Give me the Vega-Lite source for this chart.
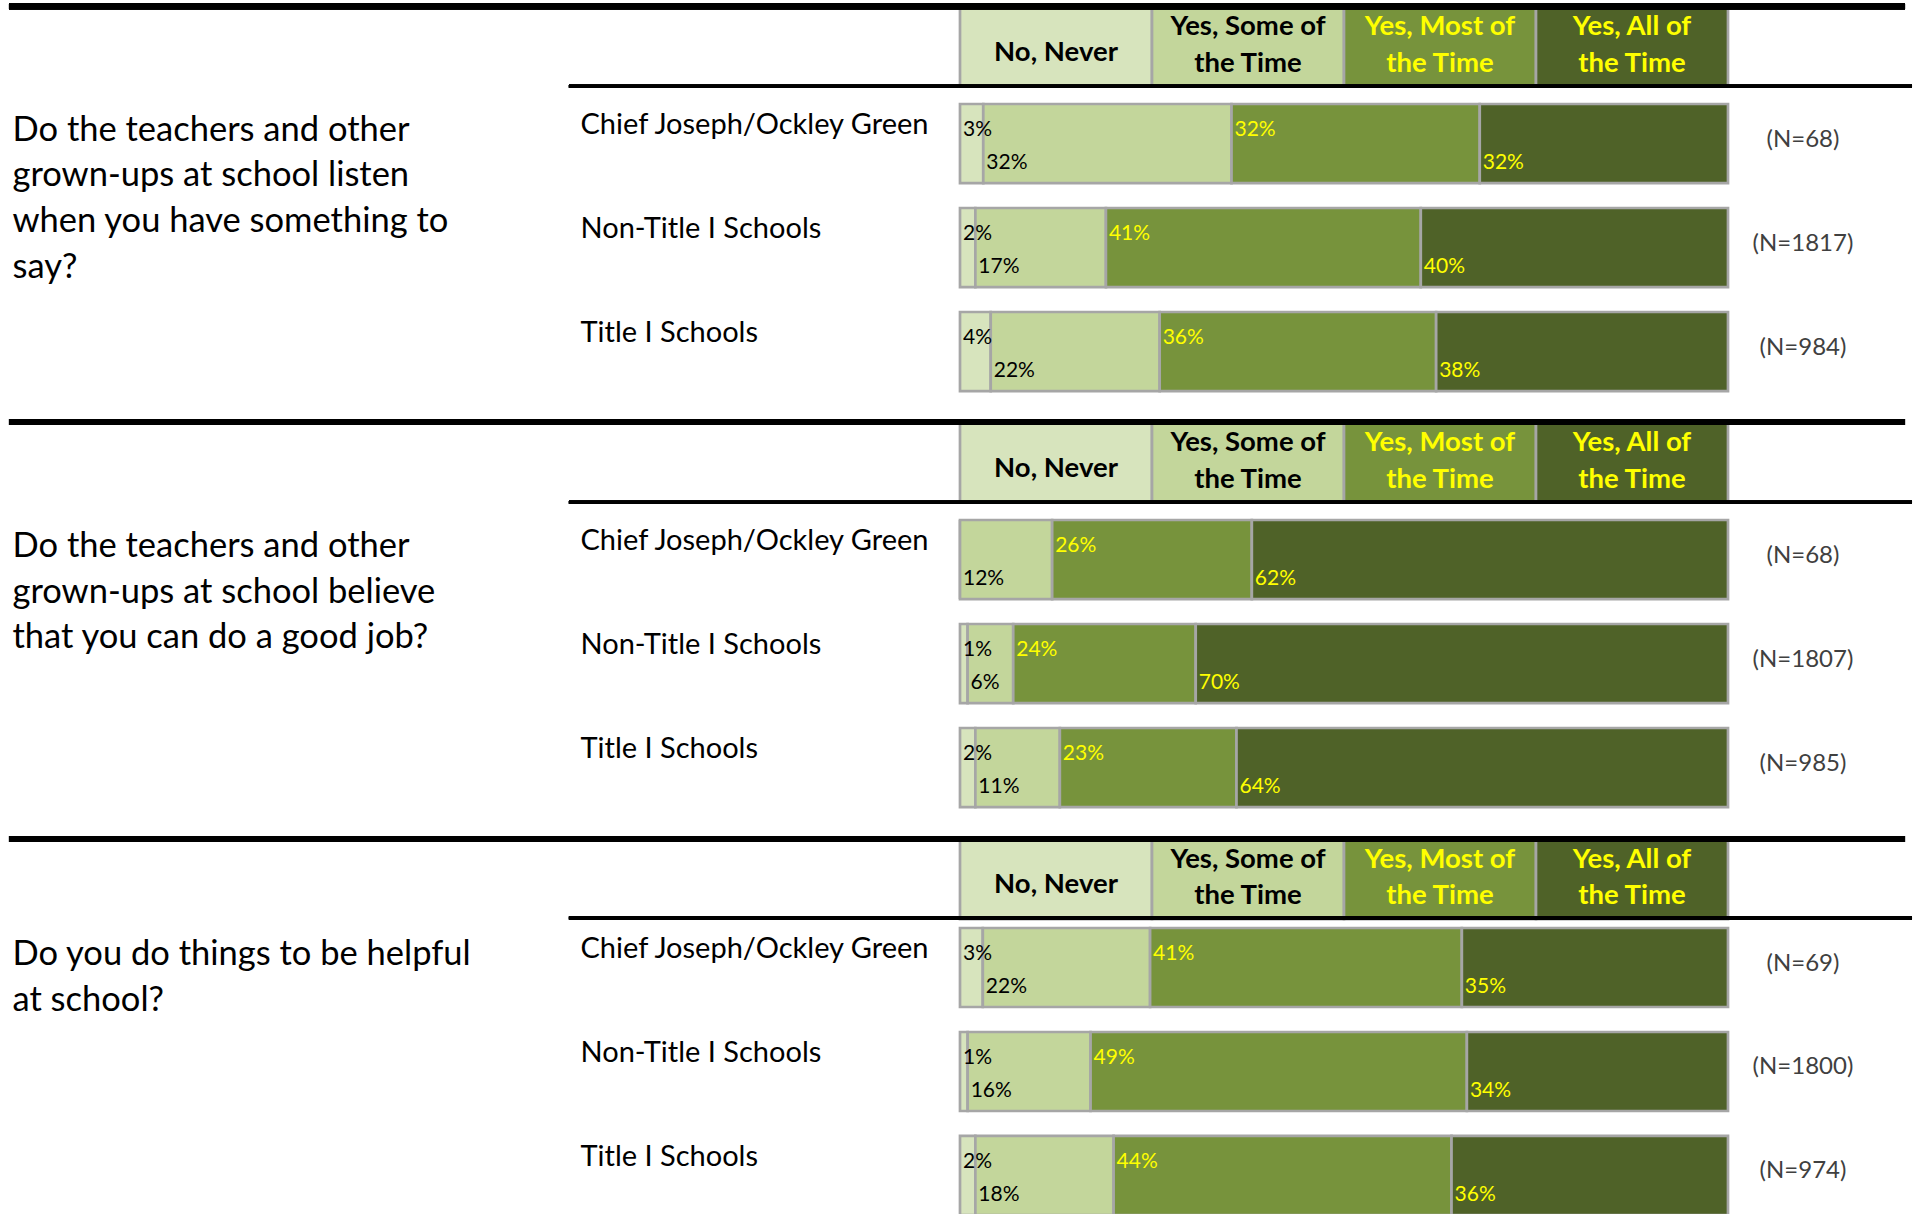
{
  "$schema": "https://vega.github.io/schema/vega-lite/v6.json",
  "padding": 0,
  "autosize": {"type": "pad"},
  "spacing": 0,
  "bounds": "flush",
  "background": "white",
  "config": {"view": {"stroke": null}, "font": "Lato"},
  "data": {"values": [
    {"q": 1, "school": "Chief Joseph/Ockley Green", "response": "No, Never", "k": 1, "pct": 0.03, "n": 68},
    {"q": 1, "school": "Chief Joseph/Ockley Green", "response": "Yes, Some of the Time", "k": 2, "pct": 0.32, "n": 68},
    {"q": 1, "school": "Chief Joseph/Ockley Green", "response": "Yes, Most of the Time", "k": 3, "pct": 0.32, "n": 68},
    {"q": 1, "school": "Chief Joseph/Ockley Green", "response": "Yes, All of the Time", "k": 4, "pct": 0.32, "n": 68},
    {"q": 1, "school": "Non-Title I Schools", "response": "No, Never", "k": 1, "pct": 0.02, "n": 1817},
    {"q": 1, "school": "Non-Title I Schools", "response": "Yes, Some of the Time", "k": 2, "pct": 0.17, "n": 1817},
    {"q": 1, "school": "Non-Title I Schools", "response": "Yes, Most of the Time", "k": 3, "pct": 0.41, "n": 1817},
    {"q": 1, "school": "Non-Title I Schools", "response": "Yes, All of the Time", "k": 4, "pct": 0.40, "n": 1817},
    {"q": 1, "school": "Title I Schools", "response": "No, Never", "k": 1, "pct": 0.04, "n": 984},
    {"q": 1, "school": "Title I Schools", "response": "Yes, Some of the Time", "k": 2, "pct": 0.22, "n": 984},
    {"q": 1, "school": "Title I Schools", "response": "Yes, Most of the Time", "k": 3, "pct": 0.36, "n": 984},
    {"q": 1, "school": "Title I Schools", "response": "Yes, All of the Time", "k": 4, "pct": 0.38, "n": 984},
    {"q": 2, "school": "Chief Joseph/Ockley Green", "response": "No, Never", "k": 1, "pct": 0.0, "n": 68},
    {"q": 2, "school": "Chief Joseph/Ockley Green", "response": "Yes, Some of the Time", "k": 2, "pct": 0.12, "n": 68},
    {"q": 2, "school": "Chief Joseph/Ockley Green", "response": "Yes, Most of the Time", "k": 3, "pct": 0.26, "n": 68},
    {"q": 2, "school": "Chief Joseph/Ockley Green", "response": "Yes, All of the Time", "k": 4, "pct": 0.62, "n": 68},
    {"q": 2, "school": "Non-Title I Schools", "response": "No, Never", "k": 1, "pct": 0.01, "n": 1807},
    {"q": 2, "school": "Non-Title I Schools", "response": "Yes, Some of the Time", "k": 2, "pct": 0.06, "n": 1807},
    {"q": 2, "school": "Non-Title I Schools", "response": "Yes, Most of the Time", "k": 3, "pct": 0.24, "n": 1807},
    {"q": 2, "school": "Non-Title I Schools", "response": "Yes, All of the Time", "k": 4, "pct": 0.70, "n": 1807},
    {"q": 2, "school": "Title I Schools", "response": "No, Never", "k": 1, "pct": 0.02, "n": 985},
    {"q": 2, "school": "Title I Schools", "response": "Yes, Some of the Time", "k": 2, "pct": 0.11, "n": 985},
    {"q": 2, "school": "Title I Schools", "response": "Yes, Most of the Time", "k": 3, "pct": 0.23, "n": 985},
    {"q": 2, "school": "Title I Schools", "response": "Yes, All of the Time", "k": 4, "pct": 0.64, "n": 985},
    {"q": 3, "school": "Chief Joseph/Ockley Green", "response": "No, Never", "k": 1, "pct": 0.03, "n": 69},
    {"q": 3, "school": "Chief Joseph/Ockley Green", "response": "Yes, Some of the Time", "k": 2, "pct": 0.22, "n": 69},
    {"q": 3, "school": "Chief Joseph/Ockley Green", "response": "Yes, Most of the Time", "k": 3, "pct": 0.41, "n": 69},
    {"q": 3, "school": "Chief Joseph/Ockley Green", "response": "Yes, All of the Time", "k": 4, "pct": 0.35, "n": 69},
    {"q": 3, "school": "Non-Title I Schools", "response": "No, Never", "k": 1, "pct": 0.01, "n": 1800},
    {"q": 3, "school": "Non-Title I Schools", "response": "Yes, Some of the Time", "k": 2, "pct": 0.16, "n": 1800},
    {"q": 3, "school": "Non-Title I Schools", "response": "Yes, Most of the Time", "k": 3, "pct": 0.49, "n": 1800},
    {"q": 3, "school": "Non-Title I Schools", "response": "Yes, All of the Time", "k": 4, "pct": 0.34, "n": 1800},
    {"q": 3, "school": "Title I Schools", "response": "No, Never", "k": 1, "pct": 0.02, "n": 974},
    {"q": 3, "school": "Title I Schools", "response": "Yes, Some of the Time", "k": 2, "pct": 0.18, "n": 974},
    {"q": 3, "school": "Title I Schools", "response": "Yes, Most of the Time", "k": 3, "pct": 0.44, "n": 974},
    {"q": 3, "school": "Title I Schools", "response": "Yes, All of the Time", "k": 4, "pct": 0.36, "n": 974}
  ]},
  "vconcat": [
    {
      "width": 1916, "height": 416,
      "transform": [
        {"filter": "datum.q === 1"},
        {"stack": "pct", "groupby": ["school"], "sort": [{"field": "k", "order": "ascending"}], "offset": "normalize", "as": ["x0", "x1"]}
      ],
      "encoding": {
        "y": {"field": "school", "type": "nominal",
          "scale": {"domain": ["hdr", "Chief Joseph/Ockley Green", "Non-Title I Schools", "Title I Schools"], "paddingInner": 0.24, "paddingOuter": 0.12, "align": 0},
          "axis": {"title": ["Do the teachers and other", "grown-ups at school listen", "when you have something to", "say?"],
            "titleX": 12, "titleY": 140, "titleAngle": 0, "titleAlign": "left", "titleBaseline": "alphabetic", "titleFont": "Lato", "titleFontSize": 34.5, "titleFontWeight": "normal", "titleLineHeight": 45.7, "titleColor": "#000000", "titleLimit": 1000,
            "labelExpr": "datum.label === 'hdr' ? '' : datum.label", "labelFont": "Lato", "labelFontSize": 29, "labelColor": "#000000", "labelAlign": "left", "labelBaseline": "alphabetic", "labelOffset": -9.5, "labelPadding": -580, "labelLimit": 1000, "labelOverlap": false,
            "ticks": false, "tickSize": 0, "domain": false, "grid": false}}
      },
      "layer": [
        {"transform": [{"aggregate": [{"op": "count", "as": "c"}], "groupby": ["response", "k"]}],
         "mark": {"type": "bar", "yOffset": 7, "stroke": "#a6a6a6", "strokeWidth": 2.7},
         "encoding": {"y": {"datum": "hdr", "type": "nominal"},
           "x": {"field": "c", "type": "quantitative", "stack": "normalize", "scale": {"domain": [-1.25, 1.2448], "nice": false, "zero": false}, "axis": null},
           "order": {"field": "k"},
           "color": {"field": "response", "type": "nominal", "scale": {"domain": ["No, Never", "Yes, Some of the Time", "Yes, Most of the Time", "Yes, All of the Time"], "range": ["#d7e4bd", "#c3d69b", "#77933c", "#4f6228"]}, "legend": null}}},
        {"transform": [{"aggregate": [{"op": "count", "as": "c"}], "groupby": ["response", "k"]}, {"calculate": "datum.k === 1 ? datum.response : ''", "as": "label"}],
         "mark": {"type": "text", "font": "Lato", "fontWeight": "bold", "fontSize": 27.5, "align": "center", "baseline": "middle", "yOffset": 52.5},
         "encoding": {"y": {"datum": "hdr", "type": "nominal", "bandPosition": 0},
           "x": {"field": "c", "type": "quantitative", "stack": "normalize", "bandPosition": 0.5, "scale": {"domain": [-1.25, 1.2448], "nice": false, "zero": false}, "axis": null},
           "order": {"field": "k"},
           "text": {"field": "label"},
           "color": {"value": "#000000"}}},
        {"transform": [{"aggregate": [{"op": "count", "as": "c"}], "groupby": ["response", "k"]}, {"calculate": "datum.k >= 2 ? replace(datum.response, ' of ', ' of\\n') : ''", "as": "label"}],
         "mark": {"type": "text", "font": "Lato", "fontWeight": "bold", "fontSize": 27.5, "align": "center", "baseline": "middle", "lineBreak": "\n", "lineHeight": 36.5, "yOffset": 27},
         "encoding": {"y": {"datum": "hdr", "type": "nominal", "bandPosition": 0},
           "x": {"field": "c", "type": "quantitative", "stack": "normalize", "bandPosition": 0.5, "scale": {"domain": [-1.25, 1.2448], "nice": false, "zero": false}, "axis": null},
           "order": {"field": "k"},
           "text": {"field": "label"},
           "color": {"condition": {"test": "datum.k >= 3", "value": "#ffff00"}, "value": "#000000"}}},
        {"mark": {"type": "rule", "strokeWidth": 6, "color": "#000000", "yOffset": 6.2},
         "encoding": {"y": {"datum": "hdr", "type": "nominal", "bandPosition": 0},
           "x": {"datum": -1.2383, "type": "quantitative", "scale": {"domain": [-1.25, 1.2448], "nice": false, "zero": false}, "axis": null},
           "x2": {"datum": 1.2305}}},
        {"mark": {"type": "rule", "strokeWidth": 3, "color": "#000000", "yOffset": 86.3},
         "encoding": {"y": {"datum": "hdr", "type": "nominal", "bandPosition": 0},
           "x": {"datum": -0.5092, "type": "quantitative", "scale": {"domain": [-1.25, 1.2448], "nice": false, "zero": false}, "axis": null},
           "x2": {"datum": 1.2396}}},
        {"mark": {"type": "bar", "stroke": "#a6a6a6", "strokeWidth": 2.7},
         "encoding": {
           "x": {"field": "x0", "type": "quantitative", "scale": {"domain": [-1.25, 1.2448], "nice": false, "zero": false}, "axis": null},
           "x2": {"field": "x1"},
           "color": {"field": "response", "type": "nominal", "scale": {"domain": ["No, Never", "Yes, Some of the Time", "Yes, Most of the Time", "Yes, All of the Time"], "range": ["#d7e4bd", "#c3d69b", "#77933c", "#4f6228"]}, "legend": null}}},
        {"transform": [{"filter": "(datum.k === 1 || datum.k === 3) && datum.pct > 0"}],
         "mark": {"type": "text", "font": "Lato", "fontSize": 21, "align": "left", "baseline": "alphabetic", "dx": 3, "dy": -7.5},
         "encoding": {
           "x": {"field": "x0", "type": "quantitative", "scale": {"domain": [-1.25, 1.2448], "nice": false, "zero": false}, "axis": null},
           "text": {"field": "pct", "type": "quantitative", "format": ".0%"},
           "color": {"condition": {"test": "datum.k >= 3", "value": "#ffff00"}, "value": "#000000"}}},
        {"transform": [{"filter": "(datum.k === 2 || datum.k === 4) && datum.pct > 0"}],
         "mark": {"type": "text", "font": "Lato", "fontSize": 21, "align": "left", "baseline": "alphabetic", "dx": 3, "dy": 25.5},
         "encoding": {
           "x": {"field": "x0", "type": "quantitative", "scale": {"domain": [-1.25, 1.2448], "nice": false, "zero": false}, "axis": null},
           "text": {"field": "pct", "type": "quantitative", "format": ".0%"},
           "color": {"condition": {"test": "datum.k >= 3", "value": "#ffff00"}, "value": "#000000"}}},
        {"transform": [{"filter": "datum.k === 4"}, {"calculate": "'(N=' + datum.n + ')'", "as": "nl"}],
         "mark": {"type": "text", "font": "Lato", "fontSize": 24, "align": "center", "baseline": "middle", "dx": 75, "dy": -4, "color": "#404040"},
         "encoding": {
           "x": {"field": "x1", "type": "quantitative", "scale": {"domain": [-1.25, 1.2448], "nice": false, "zero": false}, "axis": null},
           "text": {"field": "nl"}}}
      ]
    },
    {
      "width": 1916, "height": 408,
      "transform": [
        {"filter": "datum.q === 2"},
        {"stack": "pct", "groupby": ["school"], "sort": [{"field": "k", "order": "ascending"}], "offset": "normalize", "as": ["x0", "x1"]}
      ],
      "encoding": {
        "y": {"field": "school", "type": "nominal",
          "scale": {"domain": ["hdr", "Chief Joseph/Ockley Green", "Non-Title I Schools", "Title I Schools"], "paddingInner": 0.24, "paddingOuter": 0.0815, "align": 0},
          "axis": {"title": ["Do the teachers and other", "grown-ups at school believe", "that you can do a good job?"],
            "titleX": 12, "titleY": 140.5, "titleAngle": 0, "titleAlign": "left", "titleBaseline": "alphabetic", "titleFont": "Lato", "titleFontSize": 34.5, "titleFontWeight": "normal", "titleLineHeight": 45.7, "titleColor": "#000000", "titleLimit": 1000,
            "labelExpr": "datum.label === 'hdr' ? '' : datum.label", "labelFont": "Lato", "labelFontSize": 29, "labelColor": "#000000", "labelAlign": "left", "labelBaseline": "alphabetic", "labelOffset": -9.5, "labelPadding": -580, "labelLimit": 1000, "labelOverlap": false,
            "ticks": false, "tickSize": 0, "domain": false, "grid": false}}
      },
      "layer": [
        {"transform": [{"aggregate": [{"op": "count", "as": "c"}], "groupby": ["response", "k"]}],
         "mark": {"type": "bar", "yOffset": 7, "stroke": "#a6a6a6", "strokeWidth": 2.7},
         "encoding": {"y": {"datum": "hdr", "type": "nominal"},
           "x": {"field": "c", "type": "quantitative", "stack": "normalize", "scale": {"domain": [-1.25, 1.2448], "nice": false, "zero": false}, "axis": null},
           "order": {"field": "k"},
           "color": {"field": "response", "type": "nominal", "scale": {"domain": ["No, Never", "Yes, Some of the Time", "Yes, Most of the Time", "Yes, All of the Time"], "range": ["#d7e4bd", "#c3d69b", "#77933c", "#4f6228"]}, "legend": null}}},
        {"transform": [{"aggregate": [{"op": "count", "as": "c"}], "groupby": ["response", "k"]}, {"calculate": "datum.k === 1 ? datum.response : ''", "as": "label"}],
         "mark": {"type": "text", "font": "Lato", "fontWeight": "bold", "fontSize": 27.5, "align": "center", "baseline": "middle", "yOffset": 52.5},
         "encoding": {"y": {"datum": "hdr", "type": "nominal", "bandPosition": 0},
           "x": {"field": "c", "type": "quantitative", "stack": "normalize", "bandPosition": 0.5, "scale": {"domain": [-1.25, 1.2448], "nice": false, "zero": false}, "axis": null},
           "order": {"field": "k"},
           "text": {"field": "label"},
           "color": {"value": "#000000"}}},
        {"transform": [{"aggregate": [{"op": "count", "as": "c"}], "groupby": ["response", "k"]}, {"calculate": "datum.k >= 2 ? replace(datum.response, ' of ', ' of\\n') : ''", "as": "label"}],
         "mark": {"type": "text", "font": "Lato", "fontWeight": "bold", "fontSize": 27.5, "align": "center", "baseline": "middle", "lineBreak": "\n", "lineHeight": 36.5, "yOffset": 27},
         "encoding": {"y": {"datum": "hdr", "type": "nominal", "bandPosition": 0},
           "x": {"field": "c", "type": "quantitative", "stack": "normalize", "bandPosition": 0.5, "scale": {"domain": [-1.25, 1.2448], "nice": false, "zero": false}, "axis": null},
           "order": {"field": "k"},
           "text": {"field": "label"},
           "color": {"condition": {"test": "datum.k >= 3", "value": "#ffff00"}, "value": "#000000"}}},
        {"mark": {"type": "rule", "strokeWidth": 6, "color": "#000000", "yOffset": 6},
         "encoding": {"y": {"datum": "hdr", "type": "nominal", "bandPosition": 0},
           "x": {"datum": -1.2383, "type": "quantitative", "scale": {"domain": [-1.25, 1.2448], "nice": false, "zero": false}, "axis": null},
           "x2": {"datum": 1.2305}}},
        {"mark": {"type": "rule", "strokeWidth": 3, "color": "#000000", "yOffset": 86.3},
         "encoding": {"y": {"datum": "hdr", "type": "nominal", "bandPosition": 0},
           "x": {"datum": -0.5092, "type": "quantitative", "scale": {"domain": [-1.25, 1.2448], "nice": false, "zero": false}, "axis": null},
           "x2": {"datum": 1.2396}}},
        {"mark": {"type": "bar", "stroke": "#a6a6a6", "strokeWidth": 2.7},
         "encoding": {
           "x": {"field": "x0", "type": "quantitative", "scale": {"domain": [-1.25, 1.2448], "nice": false, "zero": false}, "axis": null},
           "x2": {"field": "x1"},
           "color": {"field": "response", "type": "nominal", "scale": {"domain": ["No, Never", "Yes, Some of the Time", "Yes, Most of the Time", "Yes, All of the Time"], "range": ["#d7e4bd", "#c3d69b", "#77933c", "#4f6228"]}, "legend": null}}},
        {"transform": [{"filter": "(datum.k === 1 || datum.k === 3) && datum.pct > 0"}],
         "mark": {"type": "text", "font": "Lato", "fontSize": 21, "align": "left", "baseline": "alphabetic", "dx": 3, "dy": -7.5},
         "encoding": {
           "x": {"field": "x0", "type": "quantitative", "scale": {"domain": [-1.25, 1.2448], "nice": false, "zero": false}, "axis": null},
           "text": {"field": "pct", "type": "quantitative", "format": ".0%"},
           "color": {"condition": {"test": "datum.k >= 3", "value": "#ffff00"}, "value": "#000000"}}},
        {"transform": [{"filter": "(datum.k === 2 || datum.k === 4) && datum.pct > 0"}],
         "mark": {"type": "text", "font": "Lato", "fontSize": 21, "align": "left", "baseline": "alphabetic", "dx": 3, "dy": 25.5},
         "encoding": {
           "x": {"field": "x0", "type": "quantitative", "scale": {"domain": [-1.25, 1.2448], "nice": false, "zero": false}, "axis": null},
           "text": {"field": "pct", "type": "quantitative", "format": ".0%"},
           "color": {"condition": {"test": "datum.k >= 3", "value": "#ffff00"}, "value": "#000000"}}},
        {"transform": [{"filter": "datum.k === 4"}, {"calculate": "'(N=' + datum.n + ')'", "as": "nl"}],
         "mark": {"type": "text", "font": "Lato", "fontSize": 24, "align": "center", "baseline": "middle", "dx": 75, "dy": -4, "color": "#404040"},
         "encoding": {
           "x": {"field": "x1", "type": "quantitative", "scale": {"domain": [-1.25, 1.2448], "nice": false, "zero": false}, "axis": null},
           "text": {"field": "nl"}}}
      ]
    },
    {
      "width": 1916, "height": 391,
      "transform": [
        {"filter": "datum.q === 3"},
        {"stack": "pct", "groupby": ["school"], "sort": [{"field": "k", "order": "ascending"}], "offset": "normalize", "as": ["x0", "x1"]}
      ],
      "encoding": {
        "y": {"field": "school", "type": "nominal",
          "scale": {"domain": ["hdr", "Chief Joseph/Ockley Green", "Non-Title I Schools", "Title I Schools"], "paddingInner": 0.24, "paddingOuter": 0, "align": 0},
          "axis": {"title": ["Do you do things to be helpful", "at school?"],
            "titleX": 12, "titleY": 140, "titleAngle": 0, "titleAlign": "left", "titleBaseline": "alphabetic", "titleFont": "Lato", "titleFontSize": 34.5, "titleFontWeight": "normal", "titleLineHeight": 46.5, "titleColor": "#000000", "titleLimit": 1000,
            "labelExpr": "datum.label === 'hdr' ? '' : datum.label", "labelFont": "Lato", "labelFontSize": 29, "labelColor": "#000000", "labelAlign": "left", "labelBaseline": "alphabetic", "labelOffset": -9.5, "labelPadding": -580, "labelLimit": 1000, "labelOverlap": false,
            "ticks": false, "tickSize": 0, "domain": false, "grid": false}}
      },
      "layer": [
        {"transform": [{"aggregate": [{"op": "count", "as": "c"}], "groupby": ["response", "k"]}],
         "mark": {"type": "bar", "yOffset": 16, "stroke": "#a6a6a6", "strokeWidth": 2.7},
         "encoding": {"y": {"datum": "hdr", "type": "nominal"},
           "x": {"field": "c", "type": "quantitative", "stack": "normalize", "scale": {"domain": [-1.25, 1.2448], "nice": false, "zero": false}, "axis": null},
           "order": {"field": "k"},
           "color": {"field": "response", "type": "nominal", "scale": {"domain": ["No, Never", "Yes, Some of the Time", "Yes, Most of the Time", "Yes, All of the Time"], "range": ["#d7e4bd", "#c3d69b", "#77933c", "#4f6228"]}, "legend": null}}},
        {"transform": [{"aggregate": [{"op": "count", "as": "c"}], "groupby": ["response", "k"]}, {"calculate": "datum.k === 1 ? datum.response : ''", "as": "label"}],
         "mark": {"type": "text", "font": "Lato", "fontWeight": "bold", "fontSize": 27.5, "align": "center", "baseline": "middle", "yOffset": 61},
         "encoding": {"y": {"datum": "hdr", "type": "nominal", "bandPosition": 0},
           "x": {"field": "c", "type": "quantitative", "stack": "normalize", "bandPosition": 0.5, "scale": {"domain": [-1.25, 1.2448], "nice": false, "zero": false}, "axis": null},
           "order": {"field": "k"},
           "text": {"field": "label"},
           "color": {"value": "#000000"}}},
        {"transform": [{"aggregate": [{"op": "count", "as": "c"}], "groupby": ["response", "k"]}, {"calculate": "datum.k >= 2 ? replace(datum.response, ' of ', ' of\\n') : ''", "as": "label"}],
         "mark": {"type": "text", "font": "Lato", "fontWeight": "bold", "fontSize": 27.5, "align": "center", "baseline": "middle", "lineBreak": "\n", "lineHeight": 36.5, "yOffset": 35.5},
         "encoding": {"y": {"datum": "hdr", "type": "nominal", "bandPosition": 0},
           "x": {"field": "c", "type": "quantitative", "stack": "normalize", "bandPosition": 0.5, "scale": {"domain": [-1.25, 1.2448], "nice": false, "zero": false}, "axis": null},
           "order": {"field": "k"},
           "text": {"field": "label"},
           "color": {"condition": {"test": "datum.k >= 3", "value": "#ffff00"}, "value": "#000000"}}},
        {"mark": {"type": "rule", "strokeWidth": 6, "color": "#000000", "yOffset": 15},
         "encoding": {"y": {"datum": "hdr", "type": "nominal", "bandPosition": 0},
           "x": {"datum": -1.2383, "type": "quantitative", "scale": {"domain": [-1.25, 1.2448], "nice": false, "zero": false}, "axis": null},
           "x2": {"datum": 1.2305}}},
        {"mark": {"type": "rule", "strokeWidth": 3, "color": "#000000", "yOffset": 94},
         "encoding": {"y": {"datum": "hdr", "type": "nominal", "bandPosition": 0},
           "x": {"datum": -0.5092, "type": "quantitative", "scale": {"domain": [-1.25, 1.2448], "nice": false, "zero": false}, "axis": null},
           "x2": {"datum": 1.2396}}},
        {"mark": {"type": "bar", "stroke": "#a6a6a6", "strokeWidth": 2.7},
         "encoding": {
           "x": {"field": "x0", "type": "quantitative", "scale": {"domain": [-1.25, 1.2448], "nice": false, "zero": false}, "axis": null},
           "x2": {"field": "x1"},
           "color": {"field": "response", "type": "nominal", "scale": {"domain": ["No, Never", "Yes, Some of the Time", "Yes, Most of the Time", "Yes, All of the Time"], "range": ["#d7e4bd", "#c3d69b", "#77933c", "#4f6228"]}, "legend": null}}},
        {"transform": [{"filter": "(datum.k === 1 || datum.k === 3) && datum.pct > 0"}],
         "mark": {"type": "text", "font": "Lato", "fontSize": 21, "align": "left", "baseline": "alphabetic", "dx": 3, "dy": -7.5},
         "encoding": {
           "x": {"field": "x0", "type": "quantitative", "scale": {"domain": [-1.25, 1.2448], "nice": false, "zero": false}, "axis": null},
           "text": {"field": "pct", "type": "quantitative", "format": ".0%"},
           "color": {"condition": {"test": "datum.k >= 3", "value": "#ffff00"}, "value": "#000000"}}},
        {"transform": [{"filter": "(datum.k === 2 || datum.k === 4) && datum.pct > 0"}],
         "mark": {"type": "text", "font": "Lato", "fontSize": 21, "align": "left", "baseline": "alphabetic", "dx": 3, "dy": 25.5},
         "encoding": {
           "x": {"field": "x0", "type": "quantitative", "scale": {"domain": [-1.25, 1.2448], "nice": false, "zero": false}, "axis": null},
           "text": {"field": "pct", "type": "quantitative", "format": ".0%"},
           "color": {"condition": {"test": "datum.k >= 3", "value": "#ffff00"}, "value": "#000000"}}},
        {"transform": [{"filter": "datum.k === 4"}, {"calculate": "'(N=' + datum.n + ')'", "as": "nl"}],
         "mark": {"type": "text", "font": "Lato", "fontSize": 24, "align": "center", "baseline": "middle", "dx": 75, "dy": -4, "color": "#404040"},
         "encoding": {
           "x": {"field": "x1", "type": "quantitative", "scale": {"domain": [-1.25, 1.2448], "nice": false, "zero": false}, "axis": null},
           "text": {"field": "nl"}}}
      ]
    }
  ]
}
